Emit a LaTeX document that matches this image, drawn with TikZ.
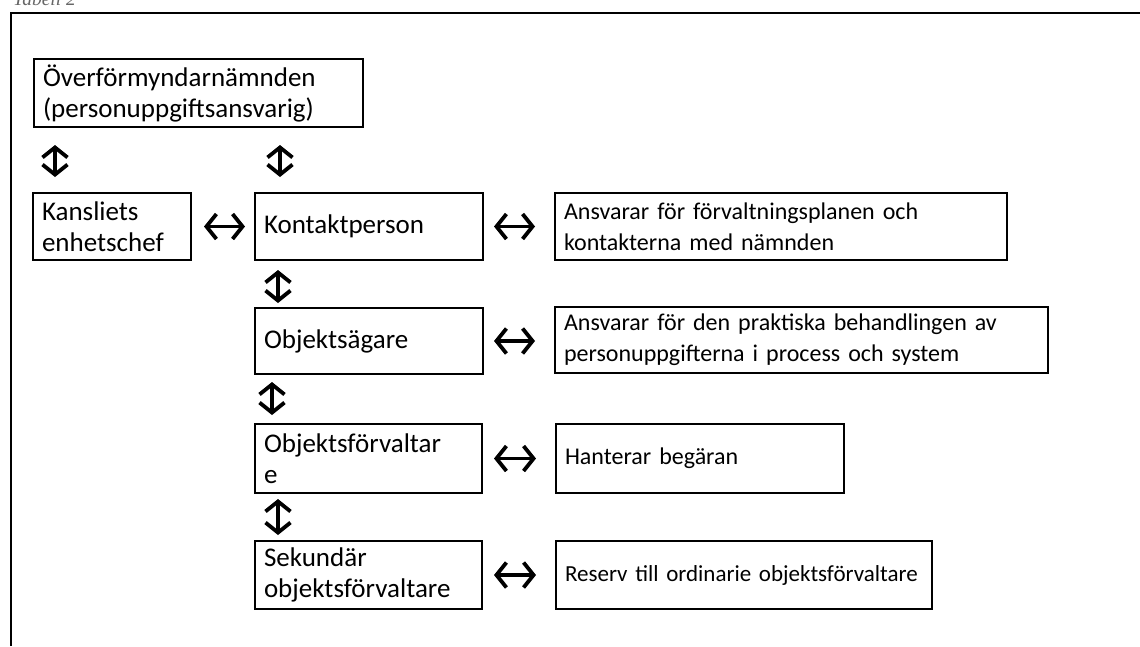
\documentclass[tikz,border=0pt]{standalone}
\usepackage{fontspec}
\setmainfont{Carlito}
\newfontfamily\capfont{Liberation Serif}
\usetikzlibrary{arrows.meta,calc}
\tikzset{
  box/.style={draw=black, line width=2pt, anchor=north west, align=left,
    inner xsep=9pt, inner ysep=0pt, font=\fontsize{24}{31}\selectfont},
  lbox/.style={box, font=\fontsize{27}{31}\selectfont},
  dbl/.style={line width=3.8pt, {Straight Barb[length=10pt,width=25pt,line width=3.8pt]}-{Straight Barb[length=10pt,width=25pt,line width=3.8pt]}},
  frame/.style={line width=2.6pt}
}
\begin{document}
\begin{tikzpicture}[x=1pt,y=-1pt]
\useasboundingbox (0,0) rectangle (1140,646);
\clip (0,0) rectangle (1140,646);
\node[anchor=base west, font=\capfont\itshape\fontsize{19.5}{22}\selectfont, text=black!60, inner sep=0pt] (cap) at (13,5) {Tabell 2};
\coordinate (fa) at (11,646);
\coordinate (fb) at (11,13);
\coordinate (fc) at (1140,13);
\draw[frame] (fa) -- (fb) -- (fc);

\node[lbox, text width=311pt, minimum height=68pt] (top) at (33,58) {Överförmyndarnämnden\\(personuppgiftsansvarig)};
\node[lbox, text width=140pt, minimum height=67pt] (kansli) at (32,192) {Kansliets\\enhetschef};
\node[lbox, text width=210pt, minimum height=67pt] (kontakt) at (254,192) {Kontaktperson};
\node[box, text width=434pt, minimum height=67pt] (ansv1) at (554,192) {Ansvarar för förvaltningsplanen och\\kontakterna med nämnden};
\node[lbox, text width=210pt, minimum height=66pt] (agare) at (254,307) {Objektsägare};
\node[box, text width=475pt, minimum height=66pt] (ansv2) at (554,306) {Ansvarar för den praktiska behandlingen av\\personuppgifterna i process och system};
\node[lbox, text width=209pt, minimum height=69pt] (forv) at (254,423) {Objektsförvaltar\\e};
\node[box, text width=270pt, minimum height=69pt] (hant) at (555,423) {Hanterar begäran};
\node[lbox, text width=209pt, minimum height=68pt] (sek) at (254,540) {Sekundär\\objektsförvaltare};
\node[box, text width=358pt, minimum height=68pt, font=\fontsize{23}{31}\selectfont] (reserv) at (555,540) {Reserv till ordinarie objektsförvaltare};

% vertical arrows
\draw[dbl, shorten <=17pt, shorten >=15pt] ($(top.south west)+(22,0)$) -- ($(kansli.north west)+(23,0)$);
\draw[dbl, shorten <=17pt, shorten >=15pt] ($(top.south west)+(247,0)$) -- ($(kontakt.north west)+(26,0)$);
\draw[dbl, shorten <=9pt, shorten >=4pt] ($(kontakt.south west)+(24,0)$) -- ($(agare.north west)+(24,0)$);
\draw[dbl, shorten <=7pt, shorten >=8pt] ($(agare.south west)+(18,0)$) -- ($(forv.north west)+(18,0)$);
\draw[dbl, shorten <=5pt, shorten >=5pt] ($(forv.south west)+(24,0)$) -- ($(sek.north west)+(24,0)$);

% horizontal arrows
\draw[dbl, shorten <=12pt, shorten >=9pt] (kansli.east) -- (kontakt.west);
\draw[dbl, shorten <=10pt, shorten >=19pt] (kontakt.east) -- (kontakt.east -| ansv1.west);
\draw[dbl, shorten <=10pt, shorten >=19pt] (agare.east) -- (agare.east -| ansv2.west);
\draw[dbl, shorten <=11pt, shorten >=19pt] (forv.east) -- (hant.west);
\draw[dbl, shorten <=11pt, shorten >=19pt] (sek.east) -- (reserv.west);
\end{tikzpicture}
\end{document}
